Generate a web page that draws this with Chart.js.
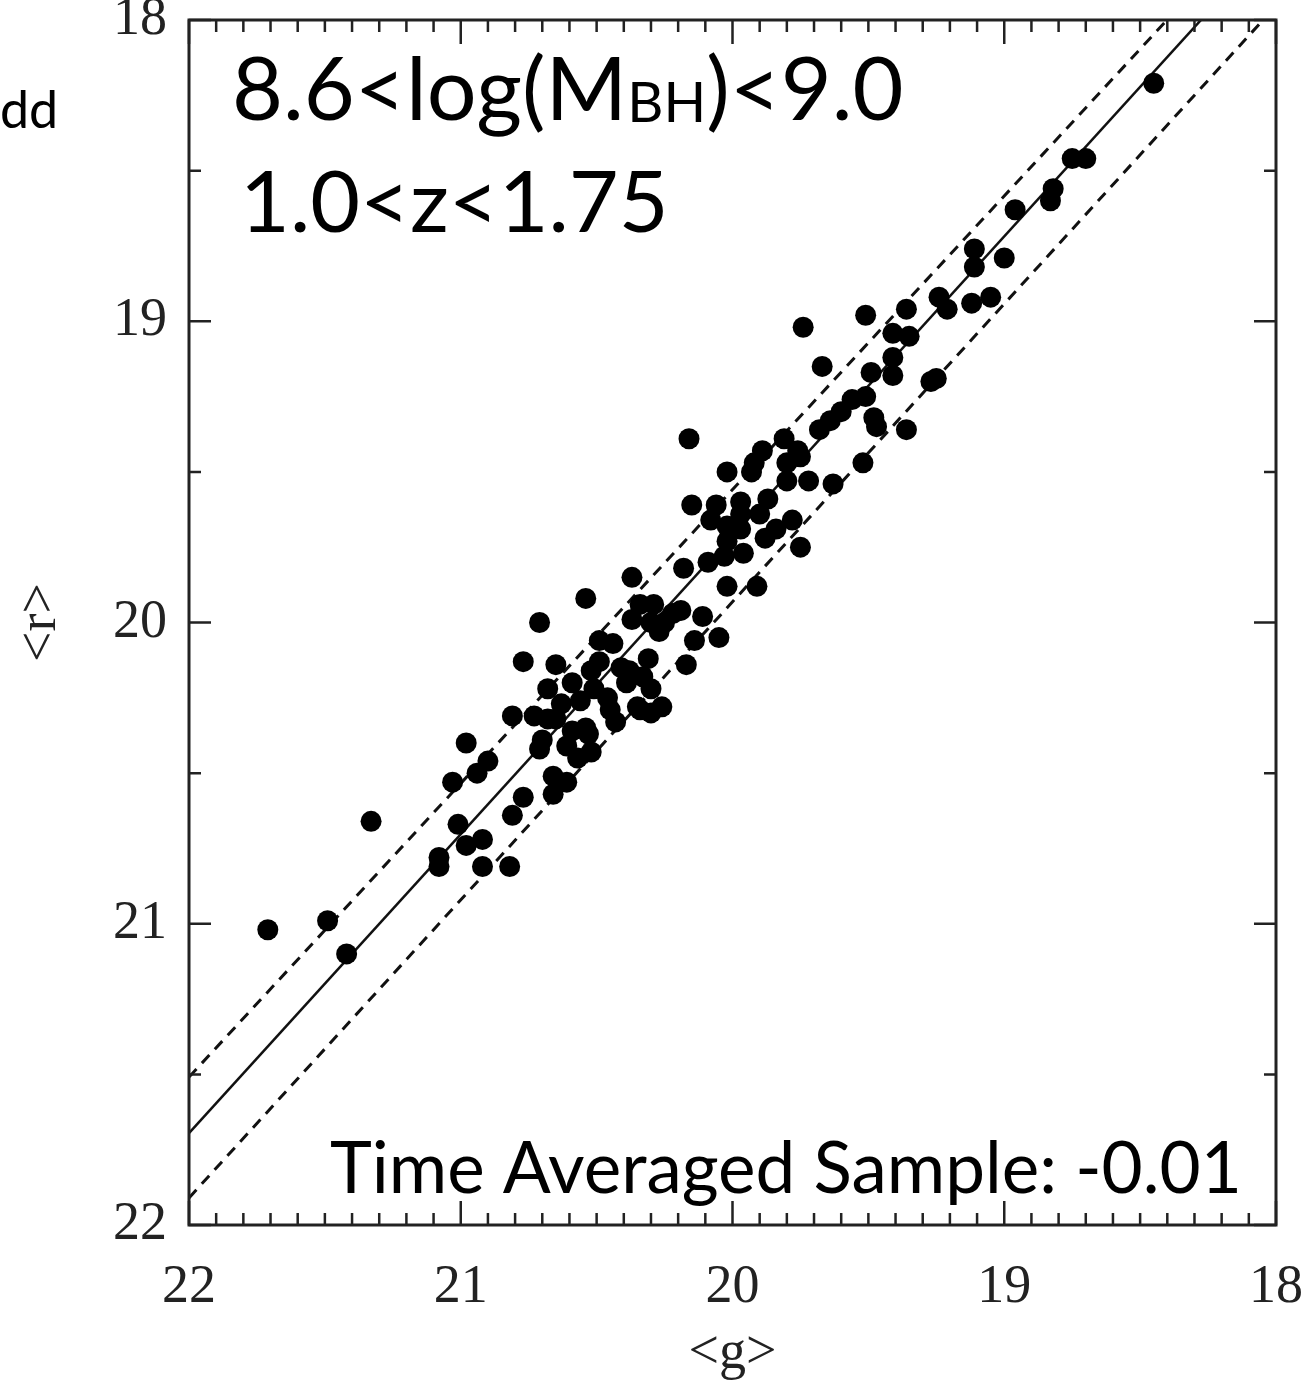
<!DOCTYPE html>
<html>
<head>
<meta charset="utf-8">
<script src="https://cdn.jsdelivr.net/npm/chart.js@4.4.1/dist/chart.umd.min.js"></script>
<style>
  html, body { margin: 0; padding: 0; background: #fff; }
  #wrap { width: 1313px; height: 1388px; }
</style>
</head>
<body>
<div id="wrap"><canvas id="chart" width="1313" height="1388"></canvas></div>
<script>
// ─── dados: <g> e <r> de cada objeto (mag) ───
const gMag = [
  18.45, 18.75, 18.70, 18.82, 18.83, 18.96, 19.11, 19.11, 19.00, 19.24,
  19.21, 19.12, 19.05, 19.51, 19.36, 19.41, 19.35, 19.74, 19.41, 19.41,
  19.67, 19.49, 19.27, 19.25, 19.56, 19.51, 19.60, 19.64, 19.68, 19.48,
  19.47, 19.36, 20.16, 19.81, 19.89, 19.92, 19.76, 19.80, 19.75, 20.02,
  19.93, 19.52, 19.80, 19.72, 19.63, 20.15, 20.06, 19.97, 19.87, 19.90,
  19.78, 20.02, 19.97, 20.02, 19.88, 19.96, 19.75, 20.18, 20.09, 20.37,
  20.02, 19.91, 20.54, 20.71, 20.34, 20.29, 20.37, 20.30, 20.25, 20.19,
  20.11, 20.05, 20.14, 20.17, 20.44, 20.77, 20.65, 20.49, 20.52, 20.31,
  20.38, 20.33, 20.39, 20.59, 20.68, 20.51, 20.30, 20.46, 20.56, 20.35,
  20.26, 20.30, 20.81, 20.73, 20.65, 20.43, 20.54, 20.59, 20.70, 20.98,
  20.61, 20.52, 20.71, 20.57, 20.90, 20.94, 21.03, 20.66, 20.61, 20.66,
  20.77, 20.81, 21.01, 20.92, 20.98, 21.08, 21.08, 20.92, 20.82, 21.33,
  21.71, 21.49, 21.42, 20.22, 20.27, 20.41, 20.34, 20.68, 20.53, 20.63,
  20.45, 20.49, 20.03, 19.97, 19.84, 20.08
];
const rMag = [
  18.21, 18.46, 18.46, 18.56, 18.60, 18.63, 18.76, 18.82, 18.79, 18.92,
  18.96, 18.94, 18.92, 18.98, 18.96, 19.04, 19.05, 19.02, 19.12, 19.18,
  19.15, 19.17, 19.20, 19.19, 19.26, 19.25, 19.30, 19.33, 19.36, 19.32,
  19.35, 19.36, 19.39, 19.39, 19.43, 19.47, 19.43, 19.47, 19.45, 19.50,
  19.50, 19.47, 19.53, 19.53, 19.54, 19.61, 19.61, 19.60, 19.59, 19.64,
  19.66, 19.68, 19.69, 19.73, 19.72, 19.77, 19.75, 19.82, 19.80, 19.85,
  19.88, 19.88, 19.92, 20.00, 19.94, 19.94, 19.99, 20.00, 20.00, 19.96,
  19.98, 20.05, 20.06, 20.14, 20.07, 20.13, 20.14, 20.13, 20.16, 20.12,
  20.16, 20.18, 20.20, 20.20, 20.22, 20.22, 20.22, 20.25, 20.26, 20.28,
  20.28, 20.30, 20.31, 20.31, 20.32, 20.33, 20.35, 20.36, 20.39, 20.40,
  20.41, 20.43, 20.42, 20.45, 20.46, 20.50, 20.53, 20.51, 20.53, 20.57,
  20.58, 20.64, 20.67, 20.72, 20.74, 20.78, 20.81, 20.81, 20.81, 20.66,
  21.02, 20.99, 21.10, 19.97, 20.03, 20.15, 20.29, 20.32, 20.37, 20.27,
  20.29, 20.06, 19.78, 19.64, 19.69, 19.66
];

// retas: ajuste (sólida) e envelope (tracejadas), nas pontas do eixo g
const lineG = [22, 18];
const fitR = [21.695, 17.726];
const upperR = [21.509, 17.609];
const lowerR = [21.91, 17.953];

const axisMin = 18;
const axisMax = 22;

const pts = gMag.map((g, i) => ({ x: g, y: rMag[i] }));
const asLine = ys => lineG.map((g, i) => ({ x: g, y: ys[i] }));

// ─── moldura + ticks para dentro (nos 4 lados) ───
const frameTicks = {
  id: 'frameTicks',
  afterDraw(chart) {
    const { ctx, chartArea: a, scales: { x, y } } = chart;
    ctx.save();
    ctx.strokeStyle = '#222';
    ctx.lineWidth = 2.5;
    ctx.beginPath();
    for (let i = 0; i <= 40; i++) {
      const px = x.getPixelForValue(axisMin + i * 0.1);
      const len = i % 10 === 0 ? 24 : 12;
      ctx.moveTo(px, a.bottom); ctx.lineTo(px, a.bottom - len);
      ctx.moveTo(px, a.top); ctx.lineTo(px, a.top + len);
    }
    for (let i = 0; i <= 8; i++) {
      const py = y.getPixelForValue(axisMin + i * 0.5);
      const len = i % 2 === 0 ? 22 : 12;
      ctx.moveTo(a.left, py); ctx.lineTo(a.left + len, py);
      ctx.moveTo(a.right, py); ctx.lineTo(a.right - len, py);
    }
    ctx.stroke();
    ctx.lineWidth = 3;
    ctx.strokeRect(a.left, a.top, a.right - a.left, a.bottom - a.top);
    ctx.restore();
  }
};

// ─── textos sobrepostos ───
const labels = {
  id: 'labels',
  afterDraw(chart) {
    const ctx = chart.ctx;
    ctx.save();
    ctx.fillStyle = '#000';
    ctx.textBaseline = 'alphabetic';
    ctx.textAlign = 'left';

    ctx.font = '52px Lato';
    ctx.fillText('dd', 0, 128);

    let x0 = 232;
    ctx.font = '88px Lato';
    ctx.fillText('8.6<log(M', x0, 120);
    x0 += ctx.measureText('8.6<log(M').width;
    ctx.font = '56px Lato';
    ctx.fillText('BH', x0, 122);
    x0 += ctx.measureText('BH').width;
    ctx.font = '88px Lato';
    ctx.fillText(')<9.0', x0, 120);

    ctx.font = '86px Lato';
    ctx.fillText('1.0<z<1.75', 240, 232);

    ctx.font = '71px Lato';
    ctx.fillText('Time Averaged Sample: -0.01', 330, 1193);
    ctx.restore();
  }
};

const serif = { family: '"Liberation Serif", "DejaVu Serif", serif', size: 54 };
const noPad = s => { s.paddingTop = 0; s.paddingBottom = 0; s.paddingLeft = 0; s.paddingRight = 0; };

new Chart(document.getElementById('chart'), {
  type: 'scatter',
  data: {
    datasets: [
      { data: pts, backgroundColor: '#000', borderWidth: 0, pointRadius: 10.5, pointHoverRadius: 10.5 },
      { type: 'line', data: asLine(fitR), borderColor: '#111', borderWidth: 2.5, pointRadius: 0, fill: false },
      { type: 'line', data: asLine(upperR), borderColor: '#111', borderWidth: 3, borderDash: [11, 8], pointRadius: 0, fill: false },
      { type: 'line', data: asLine(lowerR), borderColor: '#111', borderWidth: 3, borderDash: [11, 8], pointRadius: 0, fill: false }
    ]
  },
  options: {
    responsive: false,
    animation: false,
    events: [],
    layout: { padding: { left: 0, top: 20, right: 37, bottom: 0 } },
    plugins: { legend: { display: false }, tooltip: { enabled: false } },
    scales: {
      x: {
        type: 'linear', min: axisMin, max: axisMax, reverse: true,
        grid: { display: false, drawTicks: false },
        border: { display: false },
        ticks: { stepSize: 1, font: serif, color: '#222', padding: 30, maxRotation: 0 },
        title: { display: true, text: '<g>', font: serif, color: '#222', padding: { top: 0, bottom: 2 } },
        afterFit: s => { s.height = 163; noPad(s); }
      },
      y: {
        type: 'linear', min: axisMin, max: axisMax, reverse: true,
        grid: { display: false, drawTicks: false },
        border: { display: false },
        ticks: { stepSize: 1, font: serif, color: '#222', padding: 22 },
        title: { display: true, text: '<r>', font: serif, color: '#222', padding: { top: 8, bottom: 0 } },
        afterFit: s => { s.width = 189; noPad(s); }
      }
    }
  },
  plugins: [frameTicks, labels]
});
</script>
</body>
</html>
